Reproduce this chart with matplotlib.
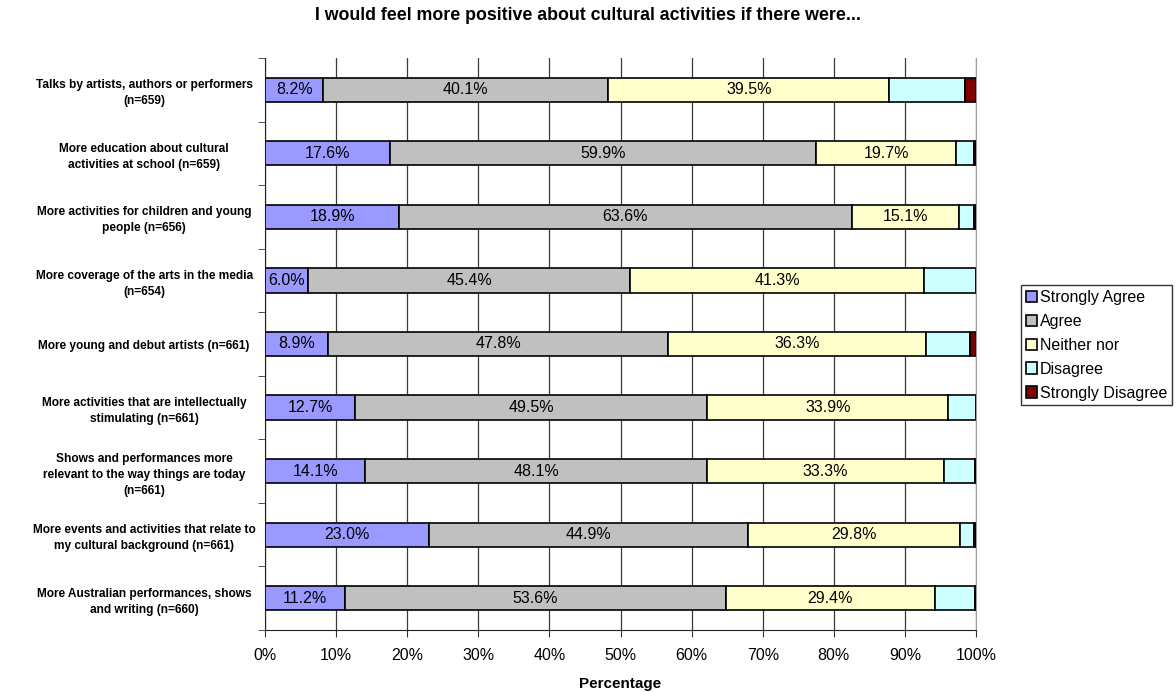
import matplotlib.pyplot as plt
import numpy as np

plt.rcParams['font.family'] = ['Liberation Sans', 'DejaVu Sans']

categories = [
    "Talks by artists, authors or performers\n(n=659)",
    "More education about cultural\nactivities at school (n=659)",
    "More activities for children and young\npeople (n=656)",
    "More coverage of the arts in the media\n(n=654)",
    "More young and debut artists (n=661)",
    "More activities that are intellectually\nstimulating (n=661)",
    "Shows and performances more\nrelevant to the way things are today\n(n=661)",
    "More events and activities that relate to\nmy cultural background (n=661)",
    "More Australian performances, shows\nand writing (n=660)",
]

strongly_agree = [8.2, 17.6, 18.9, 6.0, 8.9, 12.7, 14.1, 23.0, 11.2]
agree = [40.1, 59.9, 63.6, 45.4, 47.8, 49.5, 48.1, 44.9, 53.6]
neither = [39.5, 19.7, 15.1, 41.3, 36.3, 33.9, 33.3, 29.8, 29.4]
disagree = [10.6, 2.5, 2.1, 7.3, 6.1, 3.9, 4.3, 2.0, 5.6]
strongly_disagree = [1.6, 0.3, 0.3, 0.0, 0.9, 0.0, 0.2, 0.3, 0.2]

series = [
    ("Strongly Agree", strongly_agree, "#9999FF", True),
    ("Agree", agree, "#C0C0C0", True),
    ("Neither nor", neither, "#FFFFCC", True),
    ("Disagree", disagree, "#CCFFFF", False),
    ("Strongly Disagree", strongly_disagree, "#800000", False),
]

fig = plt.figure(figsize=(11.76, 6.92), dpi=100)
ax = fig.add_axes([265 / 1176, 1 - 630 / 692, 711 / 1176, 572 / 692])

y = np.arange(len(categories))
left = np.zeros(len(categories))
for name, vals, color, labelled in series:
    vals = np.array(vals)
    bars = ax.barh(y, vals, left=left, height=0.38, color=color,
                   edgecolor="black", linewidth=1.2, label=name, zorder=3)
    if labelled:
        for b, v in zip(bars, vals):
            ax.text(b.get_x() + b.get_width() / 2, b.get_y() + b.get_height() / 2,
                    f"{v:.1f}%", ha="center", va="center", fontsize=11.5, zorder=4)
    left += vals

ax.set_xlim(0, 100)
ax.set_ylim(len(categories) - 0.5, -0.5)
ax.set_xticks(np.arange(0, 101, 10))
ax.set_xticklabels([f"{t}%" for t in range(0, 101, 10)], fontsize=11.5)
ax.set_yticks(y)
ax.set_yticklabels(categories, fontsize=8.6, fontweight="bold", ha="center",
                   linespacing=1.45)
ax.tick_params(axis="y", which="major", length=0, pad=87)
ax.set_yticks(np.arange(-0.5, len(categories), 1), minor=True)
ax.tick_params(axis="y", which="minor", length=5, direction="out", color="#333333")
ax.tick_params(axis="x", length=5, direction="out", color="#333333", pad=8)

ax.grid(axis="x", color="#3a3a3a", linewidth=0.9, zorder=0)
ax.spines["top"].set_visible(False)
ax.spines["right"].set_color("#A0A0A0")
ax.spines["left"].set_color("#222222")
ax.spines["bottom"].set_color("#222222")

ax.set_xlabel("Percentage", fontsize=11, fontweight="bold", labelpad=10)
fig.text(588 / 1176, 1 - 16 / 692,
         "I would feel more positive about cultural activities if there were...",
         fontsize=12.8, fontweight="bold", ha="center", va="center")

leg = fig.legend(loc="upper left", bbox_to_anchor=(1021 / 1176, 1 - 285 / 692),
                 fontsize=11.5, frameon=True, fancybox=False, edgecolor="black",
                 handlelength=0.7, handleheight=0.7, handletextpad=0.2,
                 labelspacing=0.56, borderpad=0.3, borderaxespad=0)
leg.get_frame().set_linewidth(1.0)

fig.savefig("out.png", dpi=100)
